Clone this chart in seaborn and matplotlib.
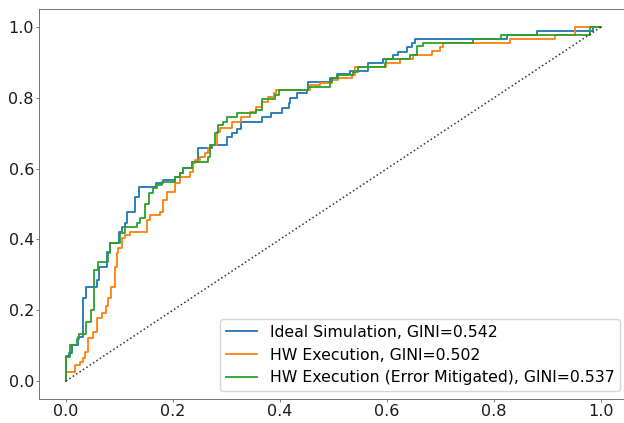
import numpy as np
import pandas as pd
import seaborn as sns
from matplotlib import pyplot as plt

# ROC corner points (fpr where the curve steps up, new tpr)
fpr_ideal = [0, 0, 0.006, 0.011, 0.022, 0.032, 0.037, 0.058, 0.062, 0.077,
             0.082, 0.099, 0.105, 0.110, 0.114, 0.129, 0.137, 0.168, 0.181, 0.204,
             0.213, 0.219, 0.235, 0.247, 0.272, 0.300, 0.310, 0.320, 0.328, 0.366,
             0.384, 0.403, 0.416, 0.419, 0.431, 0.450, 0.453, 0.493, 0.506, 0.531,
             0.565, 0.593, 0.612, 0.621, 0.637, 0.646, 0.652, 0.824, 0.880, 0.985, 1.0]
tpr_ideal = [0, 0.070, 0.080, 0.102, 0.124, 0.234, 0.265, 0.285, 0.322, 0.364,
             0.390, 0.421, 0.435, 0.446, 0.477, 0.520, 0.548, 0.559, 0.568, 0.577,
             0.587, 0.601, 0.620, 0.658, 0.667, 0.690, 0.700, 0.711, 0.733, 0.745,
             0.756, 0.770, 0.784, 0.799, 0.813, 0.822, 0.846, 0.855, 0.867, 0.877,
             0.899, 0.911, 0.921, 0.930, 0.944, 0.954, 0.966, 0.977, 0.989, 1.0, 1.0]

fpr_hw = [0, 0, 0.017, 0.026, 0.031, 0.036, 0.042, 0.051, 0.058, 0.068,
          0.074, 0.079, 0.085, 0.092, 0.095, 0.098, 0.104, 0.110, 0.120, 0.151,
          0.157, 0.176, 0.181, 0.188, 0.204, 0.213, 0.232, 0.238, 0.241, 0.250,
          0.260, 0.266, 0.270, 0.282, 0.288, 0.310, 0.328, 0.344, 0.356, 0.366,
          0.378, 0.388, 0.393, 0.456, 0.475, 0.497, 0.509, 0.534, 0.540, 0.599,
          0.624, 0.649, 0.685, 0.699, 0.704, 0.830, 0.914, 0.951, 1.0]
tpr_hw = [0, 0.026, 0.045, 0.055, 0.064, 0.083, 0.121, 0.139, 0.177, 0.191,
          0.213, 0.234, 0.266, 0.323, 0.361, 0.375, 0.403, 0.412, 0.422, 0.455,
          0.469, 0.478, 0.511, 0.535, 0.558, 0.577, 0.591, 0.615, 0.624, 0.634,
          0.643, 0.657, 0.667, 0.704, 0.714, 0.733, 0.747, 0.761, 0.775, 0.789,
          0.803, 0.813, 0.822, 0.836, 0.841, 0.850, 0.855, 0.864, 0.888, 0.899,
          0.910, 0.921, 0.932, 0.944, 0.954, 0.966, 0.977, 1.0, 1.0]

fpr_mit = [0, 0, 0.007, 0.020, 0.025, 0.037, 0.046, 0.052, 0.060, 0.079,
           0.082, 0.101, 0.110, 0.132, 0.138, 0.148, 0.155, 0.163, 0.170, 0.179,
           0.204, 0.213, 0.219, 0.235, 0.266, 0.269, 0.279, 0.285, 0.294, 0.300,
           0.319, 0.356, 0.366, 0.390, 0.398, 0.453, 0.493, 0.497, 0.509, 0.537,
           0.545, 0.596, 0.599, 0.643, 0.657, 0.668, 0.761, 0.814, 0.979, 1.0]
tpr_mit = [0, 0.069, 0.102, 0.120, 0.134, 0.167, 0.200, 0.314, 0.337, 0.361,
           0.389, 0.417, 0.436, 0.445, 0.460, 0.500, 0.530, 0.544, 0.554, 0.563,
           0.577, 0.587, 0.601, 0.620, 0.634, 0.667, 0.700, 0.723, 0.733, 0.745,
           0.756, 0.766, 0.797, 0.808, 0.822, 0.831, 0.846, 0.855, 0.864, 0.874,
           0.888, 0.899, 0.910, 0.921, 0.946, 0.956, 0.966, 0.977, 1.0, 1.0]

labels = ['Ideal Simulation, GINI=0.542',
          'HW Execution, GINI=0.502',
          'HW Execution (Error Mitigated), GINI=0.537']
diag = [0, 1]

curves = [(fpr_ideal, tpr_ideal), (fpr_hw, tpr_hw), (fpr_mit, tpr_mit)]
colors = sns.color_palette('tab10', 3)

fig = plt.figure(figsize=(6.24, 4.23), dpi=100)
ax = fig.add_axes([39.25 / 624, 24.3 / 423, 588.5 / 624, 389.4 / 423])

for (fpr, tpr), lab, col in zip(curves, labels, colors):
    df = pd.DataFrame({'fpr': fpr, 'tpr': tpr})
    sns.lineplot(data=df, x='fpr', y='tpr', sort=False, estimator=None,
                 drawstyle='steps-post', color=col, lw=1.3, label=lab, ax=ax)

ax.plot(diag, diag, ':', color='0.2', lw=1.1)

ax.set_xlabel('')
ax.set_ylabel('')
ax.tick_params(labelsize=11.5, length=2, width=0.6, pad=1.8, color='0.4', labelcolor='0.1')
for sp in ax.spines.values():
    sp.set_linewidth(0.7)
    sp.set_edgecolor('0.45')
ax.legend(loc='lower right', fontsize=11.3, borderpad=0.35, handlelength=2.0)

fig.savefig('out.png', dpi=100)
